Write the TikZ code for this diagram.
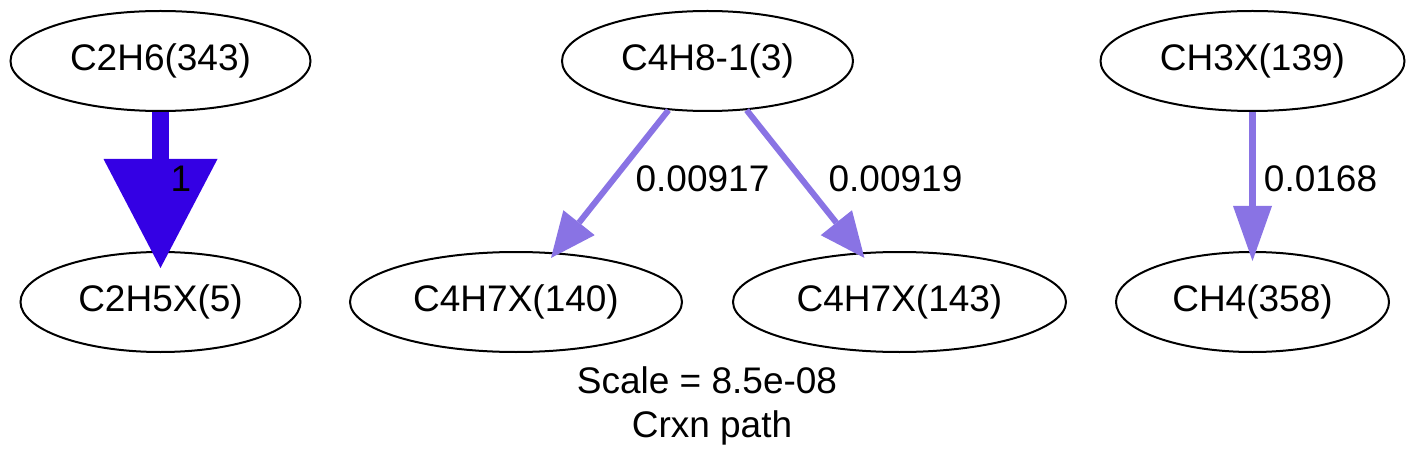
\documentclass[tikz,border=0pt]{standalone}
\usepackage{fontspec}
\setmainfont{Liberation Sans}
\usetikzlibrary{shapes.geometric,arrows.meta}
\definecolor{strongblue}{RGB}{52,0,228}
\definecolor{lightpurple}{RGB}{137,115,228}
\begin{document}
\begin{tikzpicture}[x=1pt,y=1pt,
  species/.style={ellipse,draw=black,line width=2pt,inner sep=0pt,minimum height=100pt,font=\fontsize{37}{44}\selectfont},
  flux/.style={font=\fontsize{37}{44}\selectfont,anchor=base},
  caption/.style={font=\fontsize{37}{44}\selectfont,anchor=base}]
\useasboundingbox (0,0) rectangle (1415,469);
\node[species,minimum width=300pt] (a) at (160.5,408) {C2H6(343)};
\node[species,minimum width=280pt] (b) at (160.5,167) {C2H5X(5)};
\node[species,minimum width=291pt] (c) at (707.5,408) {C4H8-1(3)};
\node[species,minimum width=332pt] (d) at (516,167) {C4H7X(140)};
\node[species,minimum width=333pt] (e) at (899.5,167) {C4H7X(143)};
\node[species,minimum width=304pt] (f) at (1252.5,408) {CH3X(139)};
\node[species,minimum width=273pt] (g) at (1252.5,167) {CH4(358)};
\draw[strongblue,line width=16.5pt,-{Triangle[length=109pt,width=114pt,line width=0pt]},shorten >=-17pt] (a) -- (b);
\draw[lightpurple,line width=6pt,-{Triangle[length=45pt,width=40pt,line width=0pt]},shorten >=-7pt] (c) -- (d);
\draw[lightpurple,line width=6pt,-{Triangle[length=45pt,width=40pt,line width=0pt]},shorten >=-7pt] (c) -- (e);
\draw[lightpurple,line width=7pt,-{Triangle[length=55pt,width=39pt,line width=0pt]},shorten >=-10pt] (f) -- (g);
\node[flux] (l1) at (181,277) {1};
\node[flux] (l2) at (702.5,277) {0.00917};
\node[flux] (l3) at (895.5,277) {0.00919};
\node[flux] (l4) at (1320.5,277) {0.0168};
\node[caption] (s) at (707,76) {Scale = 8.5e-08};
\node[caption] (t) at (712,32) {Crxn path};
\end{tikzpicture}
\end{document}
